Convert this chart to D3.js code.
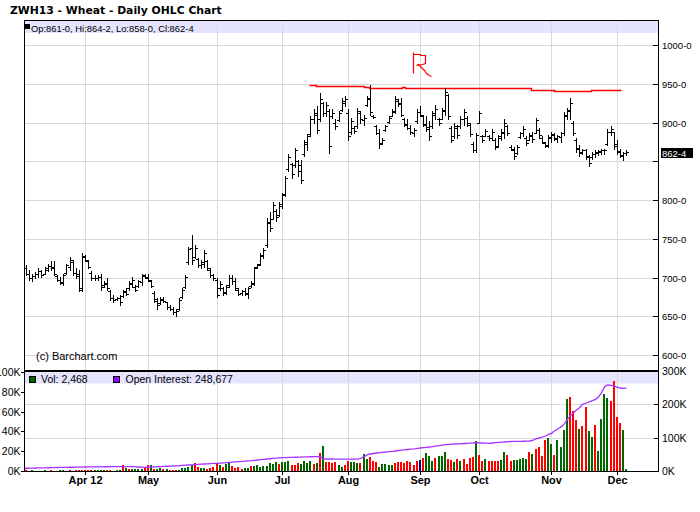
<!DOCTYPE html>
<html><head><meta charset="utf-8">
<script src="https://cdn.jsdelivr.net/npm/d3@7"></script>
<style>
body{margin:0;background:#fff}
svg{display:block}
text{font-family:"Liberation Sans",Arial,sans-serif;fill:#000}
</style>
</head><body><div id="chart"></div>
<script>
// ---------- DATA ----------
const title = "ZWH13 - Wheat - Daily OHLC Chart";
const opens = [720,712,705,699,702,704,708,705,710,715,714,702,697,693,706,714,720,706,704,686,
727,721,706,700,699,701,690,693,683,674,672,673,676,681,686,692,688,689,694,702,
701,696,680,670,667,671,668,662,660,655,660,675,688,720,738,726,724,716,718,721,
710,703,697,686,686,681,690,699,696,684,680,682,679,689,692,713,718,728,742,770,
776,786,781,792,808,840,846,845,850,845,860,872,885,905,910,905,925,912,915,908,
900,903,916,925,912,888,893,895,912,903,922,930,909,895,886,874,890,901,909,914,
928,925,904,897,893,886,902,913,908,897,894,895,910,904,905,915,935,893,882,893,
895,904,906,897,872,865,900,882,883,883,880,878,870,880,886,896,869,865,861,881,
886,880,878,883,887,890,880,874,871,880,884,880,881,887,909,915,900,878,867,861,
864,855,855,859,861,862,864,872,888,888,872,862,857,861];
const highs = [723,716,710,705,707,712,710,714,718,721,721,703,701,705,718,727,723,712,710,731,
729,723,708,703,703,705,695,699,684,677,675,677,684,686,695,701,690,697,705,705,
705,697,682,673,675,675,669,664,662,660,673,686,703,740,755,742,725,723,736,723,
712,705,699,695,688,690,703,703,699,686,684,686,688,695,714,718,731,738,777,784,
797,788,797,809,831,859,848,867,852,852,878,885,908,917,921,938,927,927,917,917,
904,915,932,934,917,906,895,919,915,910,934,949,910,897,891,880,897,908,917,934,
930,932,906,904,897,893,917,921,910,908,902,915,923,906,919,945,937,895,899,897,
908,917,908,899,875,886,915,884,891,884,891,880,884,891,904,897,871,868,871,888,
895,882,886,888,906,893,882,875,884,888,886,884,888,913,919,932,902,880,871,866,
866,858,862,864,864,866,866,891,895,888,877,866,862,864.25];
const lows = [708,703,697,695,699,701,701,705,708,710,703,695,692,690,705,710,703,699,682,682,
721,712,697,697,697,684,688,684,671,669,671,664,675,677,684,688,682,688,690,699,
695,688,669,660,666,669,660,658,653,650,658,673,686,718,718,725,714,712,714,710,
701,697,675,684,677,679,688,692,684,677,677,677,673,688,690,712,716,725,740,760,
775,773,779,790,805,837,829,842,831,822,857,865,882,900,887,902,908,908,861,906,
891,902,915,921,878,885,887,893,900,897,921,910,906,885,867,872,889,900,908,912,
921,908,895,891,885,882,900,908,895,889,878,893,904,897,904,910,904,875,880,880,
893,897,895,882,862,862,899,875,882,877,877,866,868,877,880,884,864,853,860,880,
882,871,877,875,886,880,873,868,868,875,877,875,875,884,904,904,884,862,857,860,
853,844,853,855,858,860,860,871,884,866,860,855,851,858];
const closes = [712,705,699,702,704,709,703,712,715,712,704,697,694,703,716,722,706,702,684,728,
723,714,700,699,701,688,692,686,674,671,673,668,682,679,693,697,684,695,703,700,
697,689,672,664,672,670,662,660,655,657,671,684,701,737,722,738,716,720,732,712,
703,699,678,692,680,688,700,695,686,679,682,680,686,693,712,716,729,735,772,764,
794,778,795,806,828,855,833,864,838,826,875,882,904,912,890,930,912,922,870,912,
895,912,928,930,882,902,889,915,904,906,932,913,907,887,872,878,895,906,915,930,
924,910,898,893,888,890,914,910,898,892,882,912,918,900,916,940,908,878,895,884,
905,914,899,885,864,884,912,877,889,880,888,869,882,888,900,887,866,857,868,886,
892,874,884,879,903,884,875,870,881,885,879,882,886,910,916,925,887,866,862,864,
857,848,860,862,863,864,865,888,892,870,863,858,861,862.5];
// volume in thousands of contracts
const volumesK = [0.5,1.2,0.3,1.0,0.4,0.3,0.3,1.0,0.3,1.0,
0.3,0.3,1.0,1.0,0.3,1.2,0.3,1.2,1.2,1.3,
1.3,1.2,1.2,1.3,1.3,1.2,1.3,1.2,1.2,0.5,
1.2,1.3,6,3.5,2.5,1.8,1.8,1.8,2.2,4,
6,6,2,2,3,2,2,1.2,1.2,1.2,
1.5,3,3,4,6,8,4,3,3,2,
3,4,8,6,4,7,9,5,3.5,4,
2.5,3,3,5,5,6,4,5,5,8,
7,9,7,9,9,10,6,6,8,7,
9.7,8,9.7,7,8.4,18,25,9,9,8,
9,6,4,6,10,9,9,8,8,17,
12,14,10,9,4,7,7,6,6,8,
9,9,8,10,9,6,10,11,13,18,
15,10,13,15,15,19,12,11,9,12,
10,12,7,13,14,30,16,10,12,10,
10,10,10,11,19,16,10,11,11,12,
13,12,19,17,22,24,15,31,33,27,
16,31,24,41,73,75,61,52,42,45,
65,40,34,46,20,53,78,74,71,91,
55,48,41,2.468];
// u = up day (green), d = down day (red), n = unchanged (blue)
const volumeDirection = ("udduuduuud"+"dduuuddddd"+"ddduuuuddd"+"uududuuuud"+"duduududdd"+
 "uuuuudduud"+"ddduduuddd"+"duuduuuuuu"+"uuduuudddu"+"uuudududdd"+
 "duudduuudu"+"uddduuuuud"+"dddddddndu"+"uuduuuddud"+"udddduddud"+
 "ddduudduuu"+"uududddduu"+"duuuudddud"+"duuduuuudd"+"dduu").split("");
// open interest in thousands
const openInterestK = [8,8.2,8.5,8.7,9,9.2,9.5,9.6,9.8,10,10.2,10.5,10.7,10.9,
11,11.2,11.3,11.5,11.6,11.8,12,12.1,12.3,12.4,12.5,12.6,12.7,12.8,12.9,13,13,13.1,13.2,13,13,
13,12.5,12,11.5,11,11.3,11.8,12.3,12.8,13.3,13.8,14.3,14.7,
15,15.6,16.2,16.8,17.4,18,18.6,19.2,19.8,20.4,21,21.6,22.1,22.6,
23,23.7,24.4,25.2,26,26.7,27.4,28.2,29,29.7,30.4,
31,32,33,34,35,36,36.8,37.6,38.4,39.2,40,
40.3,40.6,40.9,41.2,41.5,41.8,42.1,42.4,42.7,43,43,42,
37,36,36,36,35.8,35.6,35.5,35.5,35.5,35.5,35.6,35.8,37,
44,49,51,52.5,54,55,56,57,58,
59,60,61.5,62.5,63.5,64.5,65.5,66.5,68,
69,70,71,72,73,74.5,76,77.5,79,80,
80.5,81,81.5,82,82.5,83,83.5,84,85,
84.5,84,83.5,83,84,85,86,86.5,87,88,
88.5,89,89,89,89.2,89.5,90,92,97,
99,102,105,110,113,120,126,133,
142,155,166,175,183,190,200,204,208,
211,215,222,235,253,258,257,255,251,249,248,248.677];
const monthLabels = ["Apr 12","May","Jun","Jul","Aug","Sep","Oct","Nov","Dec"];
const monthStartIdx = [20,40,62,83,104,127,146,169,190];
const priceTicks = [600,650,700,750,800,850,900,950,1000];
const volumeTicksK = [0,20,40,60,80,100];
const oiTicksK = [0,100,200,300];
// hand-drawn red annotations, in (bar index, price)
const resistanceLine = [[91.4,948.8],[93.9,948.8],[93.9,947.5],[109,947.5],[109,946.2],[110.6,946.2],
 [110.6,944.5],[121.2,944.5],[121.2,945.5],[122.4,945.5],[122.4,944.5],[162.4,944.5],[162.4,942.3],
 [169.9,942.3],[169.9,941],[181.9,941],[181.9,942.3],[191.2,942.3]];
const annotationStem = [[124.8,991],[124.8,963.9]];
const annotationBowl = [[124.8,988.4],[127.1,988.4],[127.1,987.1],[128.7,987.1],[128.7,976.8],
 [127.7,975.9],[125.7,974.6],[126.4,975.4],[127.1,973.3],[127.7,969.8],[128.2,967.7],
 [128.9,964.3],[129.8,961.3],[130.5,960.4]];

// ---------- DRAWING ----------
const W = 700, H = 512, L = 24, R = 658;
const GRID = "#d9d9d9", BAND = "#e4e4fd";
const n = closes.length, last = n - 1;
const svg = d3.select("#chart").append("svg").attr("width", W).attr("height", H);

const x = d3.scaleLinear().domain([0, 193]).range([22.7, 626.2]).interpolate(d3.interpolateRound);
const yP = d3.scaleLinear().domain([600, 1000]).range([355, 45]);
const yPr = yP.copy().interpolate(d3.interpolateRound);
const yV = d3.scaleLinear().domain([0, 100]).range([471, 372]).interpolate(d3.interpolateRound);
const yOI = d3.scaleLinear().domain([0, 300]).range([471, 371]);
const yOIr = yOI.copy().interpolate(d3.interpolateRound);
const fmtPrice = p => { const w = Math.floor(p + 1e-9); return w + "-" + Math.round((p - w) * 8); };
const fmtInt = d3.format(",");

const defs = svg.append("defs");
defs.append("clipPath").attr("id","cp").append("rect").attr("x",L+1).attr("y",21).attr("width",R-L-1).attr("height",349);
defs.append("clipPath").attr("id","cv").append("rect").attr("x",L+1).attr("y",372).attr("width",R-L-1).attr("height",99);

// title
svg.append("text").attr("x",10).attr("y",13.5).style("font-family","'DejaVu Sans',Verdana,sans-serif")
  .attr("font-weight","bold").attr("font-size",10.8).text(title);

// ----- price panel -----
svg.append("rect").attr("x",L).attr("y",21).attr("width",R-L).attr("height",12).attr("fill",BAND);
const pg = svg.append("g");
pg.selectAll("line.h").data(priceTicks).join("line").attr("class","h")
  .attr("x1",L).attr("x2",R).attr("y1",d=>yPr(d)+0.5).attr("y2",d=>yPr(d)+0.5).attr("stroke",GRID);
pg.selectAll("line.v").data(monthStartIdx).join("line").attr("class","v")
  .attr("x1",d=>x(d)+0.5).attr("x2",d=>x(d)+0.5).attr("y1",21).attr("y2",370).attr("stroke",GRID);

// legend
svg.append("rect").attr("x",25).attr("y",24).attr("width",5).attr("height",5).attr("fill","#000");
svg.append("text").attr("x",31).attr("y",31.5).attr("font-size",9.4)
  .text(`Op:${fmtPrice(opens[last])}, Hi:${fmtPrice(highs[last])}, Lo:${fmtPrice(lows[last])}, Cl:${fmtPrice(closes[last])}`);

svg.append("text").attr("x",36).attr("y",359.5).attr("font-size",11).text("(c) Barchart.com");

// red annotations
const aline = d3.line().x(d=>x(d[0])+0.5).y(d=>yPr(d[1])+0.5).curve(d3.curveStepAfter);
const fline = d3.line().x(d=>x(d[0])+0.5).y(d=>yPr(d[1])+0.5);
svg.append("path").attr("d",aline(resistanceLine)).attr("fill","none").attr("stroke","#f00").attr("stroke-width",1.4);
svg.append("path").attr("d",fline(annotationStem)).attr("fill","none").attr("stroke","#f00").attr("stroke-width",1.2);
svg.append("path").attr("d",fline(annotationBowl)).attr("fill","none").attr("stroke","#f00").attr("stroke-width",1.2);

// OHLC bars
const bars = svg.append("g").attr("clip-path","url(#cp)").attr("stroke","#000").attr("stroke-width",1);
const idx = d3.range(n);
bars.selectAll("line.hl").data(idx).join("line").attr("class","hl")
  .attr("x1",i=>x(i)+0.5).attr("x2",i=>x(i)+0.5)
  .attr("y1",i=>yPr(highs[i])).attr("y2",i=>yPr(lows[i])+1);
bars.selectAll("line.o").data(idx).join("line").attr("class","o")
  .attr("x1",i=>x(i)-2).attr("x2",i=>x(i))
  .attr("y1",i=>yPr(opens[i])+0.5).attr("y2",i=>yPr(opens[i])+0.5);
bars.selectAll("line.c").data(idx).join("line").attr("class","c")
  .attr("x1",i=>x(i)+1).attr("x2",i=>x(i)+3)
  .attr("y1",i=>yPr(closes[i])+0.5).attr("y2",i=>yPr(closes[i])+0.5);

// borders of price panel
svg.append("line").attr("x1",L).attr("x2",R+1).attr("y1",20.5).attr("y2",20.5).attr("stroke","#000");

// price axis (right)
const yClose = yP(closes[last]);
const pAxis = svg.append("g").attr("transform",`translate(${R},0)`)
  .call(d3.axisRight(yPr).tickValues(priceTicks).tickSizeInner(-5).tickSizeOuter(0).tickPadding(4).tickFormat(fmtPrice));
pAxis.select(".domain").remove();
pAxis.selectAll("text").attr("font-family",null).attr("font-size",9.5)
  .attr("display",d=>Math.abs(yP(d)-yClose)<11?"none":null);
pAxis.selectAll("line").attr("stroke","#000");

// current price tag
svg.append("rect").attr("x",R+3).attr("y",Math.round(yClose)-4).attr("width",32).attr("height",10).attr("fill","#000");
svg.append("text").attr("x",R+4).attr("y",Math.round(yClose)+4.5).attr("font-size",9.5)
  .style("fill","#fff").text(fmtPrice(closes[last]));

// ----- volume panel -----
svg.append("rect").attr("x",L).attr("y",372).attr("width",R-L).attr("height",11.5).attr("fill",BAND);
const vg = svg.append("g");
vg.selectAll("line.h").data([100,200]).join("line").attr("class","h")
  .attr("x1",L).attr("x2",R).attr("y1",d=>yOIr(d)+0.5).attr("y2",d=>yOIr(d)+0.5).attr("stroke",GRID);
vg.selectAll("line.v").data(monthStartIdx).join("line").attr("class","v")
  .attr("x1",d=>x(d)+0.5).attr("x2",d=>x(d)+0.5).attr("y1",372).attr("y2",471).attr("stroke",GRID);

const volColor = {u:"#006600", d:"#ff0000", n:"#000080"};
svg.append("g").attr("clip-path","url(#cv)").selectAll("rect").data(idx).join("rect")
  .attr("x",i=>x(i)-1).attr("width",2)
  .attr("y",i=>yV(volumesK[i])).attr("height",i=>471-yV(volumesK[i]))
  .attr("fill",i=>volColor[volumeDirection[i]]);

const oiLine = d3.line().x((d,i)=>x(i)+0.5).y(d=>yOI(d));
svg.append("path").attr("clip-path","url(#cv)").attr("d",oiLine(openInterestK))
  .attr("fill","none").attr("stroke","#a833ff").attr("stroke-width",1.3);

// volume legend
svg.append("rect").attr("x",29.5).attr("y",376.5).attr("width",6).attr("height",6).attr("fill","#006600").attr("stroke","#000");
svg.append("text").attr("x",41).attr("y",383).attr("font-size",10.5).text("Vol: " + fmtInt(Math.round(volumesK[last]*1000)));
svg.append("rect").attr("x",113.5).attr("y",376.5).attr("width",6).attr("height",6).attr("fill","#9900ff").attr("stroke","#000");
svg.append("text").attr("x",125.5).attr("y",383).attr("font-size",10.5).text("Open Interest: " + fmtInt(Math.round(openInterestK[last]*1000)));

// volume panel frame
svg.append("rect").attr("x",L).attr("y",370).attr("width",R-L+1).attr("height",2).attr("fill","#000");
svg.append("line").attr("x1",L).attr("x2",R+1).attr("y1",471.5).attr("y2",471.5).attr("stroke","#000");
svg.append("line").attr("x1",L+0.5).attr("x2",L+0.5).attr("y1",20).attr("y2",472).attr("stroke","#000");
svg.append("line").attr("x1",R+0.5).attr("x2",R+0.5).attr("y1",20).attr("y2",472).attr("stroke","#000");

// left volume axis
const vAxis = svg.append("g").attr("transform",`translate(${L},0)`)
  .call(d3.axisLeft(yV).tickValues(volumeTicksK).tickSizeInner(3).tickSizeOuter(0).tickPadding(0.5).tickFormat(d=>d+"K"));
vAxis.select(".domain").remove();
vAxis.selectAll("text").attr("font-family",null).attr("font-size",10.5);
vAxis.selectAll("line").attr("stroke","#000");

// right OI axis
const oAxis = svg.append("g").attr("transform",`translate(${R},0)`)
  .call(d3.axisRight(yOIr).tickValues(oiTicksK).tickSizeInner(-4).tickSizeOuter(0).tickPadding(4).tickFormat(d=>d+"K"));
oAxis.select(".domain").remove();
oAxis.selectAll("text").attr("font-family",null).attr("font-size",10.5);
oAxis.selectAll("line").attr("stroke","#000");

// bottom month axis
const xAxis = svg.append("g").attr("transform","translate(0,471)")
  .call(d3.axisBottom(x).tickValues(monthStartIdx).tickSizeInner(4).tickSizeOuter(0).tickPadding(1.5)
    .tickFormat((d,i)=>monthLabels[i]));
xAxis.select(".domain").remove();
xAxis.selectAll("text").attr("font-family",null).attr("font-size",10.9).attr("font-weight","bold");
xAxis.selectAll("line").attr("stroke","#000");
</script>
</body></html>
